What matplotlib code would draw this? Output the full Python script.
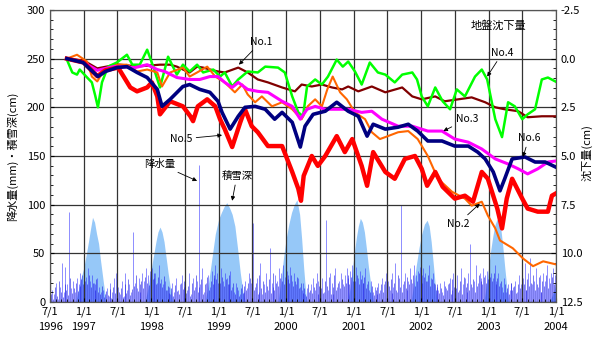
import numpy as np
import matplotlib
matplotlib.use('Agg')
import matplotlib.pyplot as plt

plt.rcParams['font.family'] = ['Noto Sans CJK JP', 'DejaVu Sans']
plt.rcParams['font.size'] = 8

# 地盤沈下量 (cm)  x = 年 (小数)
t_no1 = [1996.75, 1997.0, 1997.2, 1997.5, 1997.8, 1998.13, 1998.28, 1998.38, 1998.47, 1998.57, 1998.68,
         1998.77, 1998.87, 1998.99, 1999.09, 1999.29, 1999.43, 1999.58, 1999.73, 1999.94, 2000.13, 2000.23,
         2000.38, 2000.53, 2000.68, 2000.83, 2000.92, 2001.07, 2001.27, 2001.47, 2001.72, 2001.87, 2002.01,
         2002.21, 2002.35, 2002.55, 2002.75, 2002.95, 2003.10, 2003.24, 2003.44, 2003.58, 2003.79, 2003.99]
s_no1 = [0.0, 0.1, 0.5, 0.3, 0.4, 0.31, 0.31, 0.41, 0.56, 0.71, 0.41,
         0.46, 0.56, 0.66, 0.71, 0.46, 0.71, 1.07, 1.22, 1.48, 1.68, 1.33,
         1.43, 1.33, 1.48, 1.58, 1.43, 1.68, 1.43, 1.73, 1.48, 1.94, 2.09,
         1.94, 2.19, 2.09, 1.99, 2.24, 2.50, 2.60, 2.70, 3.01, 2.96, 2.96]

t_no2 = [1996.75, 1996.90, 1997.05, 1997.12, 1997.20, 1997.29, 1997.49, 1997.64, 1997.79, 1997.94, 1998.09,
         1998.16, 1998.28, 1998.47, 1998.57, 1998.68, 1998.83, 1998.95, 1999.09, 1999.24, 1999.35, 1999.43,
         1999.54, 1999.64, 1999.79, 1999.94, 2000.09, 2000.23, 2000.32, 2000.43, 2000.53, 2000.61, 2000.69,
         2000.80, 2000.90, 2001.02, 2001.17, 2001.27, 2001.39, 2001.47, 2001.66, 2001.81, 2001.95, 2002.10,
         2002.25, 2002.46, 2002.65, 2002.75, 2002.90, 2002.99, 2003.10, 2003.17, 2003.36, 2003.51, 2003.66,
         2003.81, 2003.99]
s_no2 = [0.0, -0.20, 0.15, 0.92, 1.17, 0.66, 0.31, 0.31, 0.66, 0.56, 0.71,
         1.43, 0.71, 0.46, 0.92, 0.71, 0.41, 0.92, 1.22, 1.73, 1.33, 1.84,
         2.24, 1.94, 2.45, 2.24, 2.60, 3.11, 2.45, 2.09, 2.45, 1.58, 0.92,
         1.73, 2.09, 2.76, 3.11, 3.78, 4.13, 4.03, 3.78, 3.72, 4.13, 5.00,
         6.17, 6.84, 7.19, 7.55, 7.35, 8.06, 8.72, 9.34, 9.74, 10.26, 10.66,
         10.41, 10.56]

t_no3 = [1996.75, 1997.0, 1997.2, 1997.45, 1997.76, 1997.94, 1998.09, 1998.20, 1998.38, 1998.57, 1998.72,
         1998.87, 1998.99, 1999.09, 1999.20, 1999.29, 1999.43, 1999.58, 1999.73, 1999.94, 2000.09, 2000.21,
         2000.31, 2000.43, 2000.58, 2000.77, 2000.92, 2001.12, 2001.27, 2001.42, 2001.66, 2001.87, 2002.10,
         2002.31, 2002.50, 2002.70, 2002.90, 2003.10, 2003.29, 2003.44, 2003.58, 2003.73, 2003.88, 2003.99]
s_no3 = [0.0, 0.2, 0.6, 0.4, 0.46, 0.31, 0.56, 0.66, 0.97, 1.07, 1.07,
         0.92, 0.92, 1.22, 1.48, 1.22, 1.58, 1.68, 1.73, 2.19, 2.45, 3.11,
         2.60, 2.45, 2.60, 2.60, 2.60, 2.76, 2.70, 3.11, 3.47, 3.47, 3.72,
         3.72, 4.13, 4.29, 4.64, 5.15, 5.41, 5.66, 5.92, 5.66, 5.31, 5.26]

t_no4 = [1996.75, 1996.83, 1996.90, 1996.94, 1997.05, 1997.12, 1997.17, 1997.21, 1997.27, 1997.36, 1997.49,
         1997.64, 1997.72, 1997.83, 1997.94, 1998.03, 1998.13, 1998.25, 1998.38, 1998.47, 1998.57, 1998.68,
         1998.77, 1998.92, 1999.02, 1999.09, 1999.20, 1999.29, 1999.43, 1999.58, 1999.69, 1999.88, 1999.98,
         2000.09, 2000.18, 2000.25, 2000.31, 2000.43, 2000.53, 2000.62, 2000.75, 2000.84, 2000.92, 2001.02,
         2001.12, 2001.24, 2001.36, 2001.47, 2001.61, 2001.72, 2001.87, 2001.94, 2002.01, 2002.10, 2002.21,
         2002.32, 2002.43, 2002.53, 2002.65, 2002.80, 2002.90, 2002.98, 2003.10, 2003.20, 2003.29, 2003.39,
         2003.50, 2003.58, 2003.69, 2003.79, 2003.88, 2003.99]
s_no4 = [0.05, 0.71, 0.82, 0.56, 0.97, 1.22, 1.90, 2.50, 1.22, 0.41, 0.20,
         -0.20, 0.31, 0.31, -0.46, 0.41, 1.48, -0.10, 0.82, 0.31, 0.66, 0.31,
         0.71, 0.56, 0.92, 0.71, 1.43, 1.07, 0.66, 0.71, 0.41, 0.46, 0.71,
         1.94, 2.76, 2.96, 1.43, 1.07, 1.33, 0.92, 0.05, 0.41, 0.15, 0.66,
         1.33, 0.20, 0.71, 0.82, 1.22, 0.82, 0.71, 1.07, 1.94, 2.45, 1.48,
         2.19, 2.60, 1.58, 1.94, 0.92, 0.56, 1.07, 3.11, 4.03, 2.24, 2.45,
         3.11, 2.86, 2.60, 1.07, 0.97, 1.17]

t_no5 = [1996.75, 1997.0, 1997.2, 1997.32, 1997.51, 1997.69, 1997.79, 1997.94, 1998.01, 1998.09, 1998.13,
         1998.28, 1998.47, 1998.58, 1998.62, 1998.69, 1998.83, 1998.95, 1999.02, 1999.09, 1999.20, 1999.32,
         1999.39, 1999.49, 1999.58, 1999.73, 1999.94, 2000.09, 2000.18, 2000.22, 2000.26, 2000.38, 2000.47,
         2000.58, 2000.75, 2000.87, 2000.98, 2001.12, 2001.20, 2001.29, 2001.47, 2001.61, 2001.76, 2001.91,
         2002.01, 2002.09, 2002.21, 2002.32, 2002.50, 2002.65, 2002.77, 2002.90, 2002.99, 2003.13, 2003.20,
         2003.27, 2003.35, 2003.50, 2003.58, 2003.73, 2003.88, 2003.94, 2003.99]
s_no5 = [0.0, 0.2, 0.9, 0.6, 0.46, 1.48, 1.68, 1.48, 1.22, 1.94, 2.86,
         2.19, 2.45, 2.96, 3.21, 2.45, 2.09, 2.45, 3.11, 3.62, 4.54, 3.27,
         2.60, 3.47, 3.78, 4.49, 4.49, 5.82, 6.68, 7.30, 6.02, 5.00, 5.51,
         5.00, 3.98, 4.80, 4.13, 5.51, 6.53, 4.80, 5.82, 6.17, 5.15, 5.00,
         5.66, 6.53, 5.82, 6.58, 7.19, 7.04, 7.35, 5.82, 6.17, 7.70, 8.72,
         7.19, 6.17, 7.19, 7.70, 7.86, 7.86, 7.04, 6.94]

t_no6 = [1996.75, 1996.99, 1997.21, 1997.32, 1997.49, 1997.64, 1997.79, 1997.94, 1998.09, 1998.16, 1998.28,
         1998.47, 1998.57, 1998.72, 1998.87, 1998.99, 1999.05, 1999.17, 1999.29, 1999.39, 1999.54, 1999.69,
         1999.83, 1999.94, 2000.09, 2000.21, 2000.28, 2000.40, 2000.58, 2000.75, 2000.92, 2001.07, 2001.20,
         2001.29, 2001.47, 2001.66, 2001.81, 2001.95, 2002.10, 2002.31, 2002.50, 2002.70, 2002.84, 2002.95,
         2003.07, 2003.17, 2003.24, 2003.35, 2003.54, 2003.69, 2003.84, 2003.99]
s_no6 = [0.0, 0.20, 0.92, 0.66, 0.46, 0.41, 0.71, 0.97, 1.58, 2.45, 2.09,
         1.43, 1.33, 1.58, 1.73, 2.19, 2.76, 3.62, 2.96, 2.50, 2.45, 2.60,
         3.11, 2.76, 3.27, 4.54, 3.47, 2.86, 2.70, 2.24, 2.70, 2.96, 3.98,
         3.37, 3.62, 3.52, 3.37, 3.72, 4.23, 4.23, 4.49, 4.49, 4.80, 5.15,
         5.82, 6.79, 6.17, 5.15, 5.05, 5.31, 5.31, 5.56]

# 積雪深 (cm)
t_snow = [1996.88, 1996.92, 1996.96, 1997.00, 1997.04, 1997.07, 1997.10, 1997.13, 1997.16, 1997.19, 1997.22,
          1997.25, 1997.28, 1997.31, 1997.34,
          1997.91, 1997.95, 1997.98, 1998.01, 1998.04, 1998.07, 1998.10, 1998.13, 1998.16, 1998.19, 1998.22,
          1998.25, 1998.28, 1998.31, 1998.33,
          1998.80, 1998.85, 1998.90, 1998.95, 1999.00, 1999.04, 1999.08, 1999.12, 1999.16, 1999.20, 1999.24,
          1999.28, 1999.32, 1999.36, 1999.39,
          1999.88, 1999.92, 1999.96, 2000.00, 2000.04, 2000.08, 2000.12, 2000.16, 2000.20, 2000.23, 2000.26,
          2000.29, 2000.31,
          2000.91, 2000.95, 2000.98, 2001.01, 2001.04, 2001.07, 2001.10, 2001.13, 2001.16, 2001.19, 2001.22,
          2001.25, 2001.28, 2001.30,
          2001.85, 2001.89, 2001.93, 2001.97, 2002.01, 2002.05, 2002.09, 2002.12, 2002.15, 2002.18, 2002.21,
          2002.24,
          2002.93, 2002.97, 2003.00, 2003.03, 2003.06, 2003.09, 2003.12, 2003.15, 2003.18, 2003.21, 2003.24,
          2003.27, 2003.30,
          2003.90, 2003.94, 2003.97, 2004.00]
snow = [0, 12, 25, 35, 50, 62, 75, 87, 82, 70, 60, 42, 26, 10, 0,
        0, 14, 26, 38, 50, 62, 72, 77, 72, 62, 46, 30, 16, 5, 0,
        0, 20, 45, 70, 85, 92, 98, 102, 97, 90, 78, 55, 30, 10, 0,
        0, 20, 45, 65, 80, 92, 100, 105, 90, 65, 35, 10, 0,
        0, 15, 32, 50, 66, 78, 86, 82, 72, 55, 36, 20, 6, 0,
        0, 18, 38, 56, 70, 80, 84, 78, 62, 40, 18, 0,
        0, 18, 35, 52, 66, 78, 84, 86, 77, 58, 36, 16, 0,
        0, 6, 12, 18]

# 降水量 (mm) 10日ごと, 1996/7/1 から
precip = [5, 12, 8, 20, 3, 15, 40, 10, 36, 18, 92, 14, 22, 10, 25, 18, 30, 28,
          30, 26, 35, 22, 28, 20, 18, 25, 15, 10, 12, 8, 14, 6, 20, 10, 25, 30,
          15, 8, 22, 6, 30, 12, 18, 10, 72, 20, 14, 25, 10, 30, 22, 35, 28, 32,
          35, 25, 30, 20, 38, 24, 18, 22, 12, 15, 8, 20, 10, 25, 12, 18, 28, 15,
          20, 12, 30, 8, 25, 15, 22, 141, 18, 35, 10, 20, 28, 15, 32, 25, 38, 30,
          28, 35, 22, 30, 25, 18, 32, 15, 10, 20, 12, 8, 18, 10, 22, 14, 30, 20,
          81, 15, 25, 10, 40, 8, 18, 30, 12, 55, 20, 15, 28, 22, 35, 30, 38, 26,
          32, 28, 36, 22, 30, 18, 25, 15, 12, 20, 8, 14, 10, 18, 25, 12, 30, 22,
          18, 25, 10, 84, 12, 30, 20, 8, 35, 15, 22, 30, 18, 28, 35, 25, 32, 38,
          30, 36, 25, 32, 28, 20, 35, 18, 12, 22, 10, 15, 8, 20, 12, 25, 18, 30,
          22, 12, 30, 15, 40, 10, 25, 100, 18, 30, 12, 22, 35, 20, 38, 28, 32, 36,
          28, 35, 30, 22, 38, 25, 30, 18, 15, 12, 20, 10, 22, 14, 18, 25, 12, 30,
          20, 28, 12, 35, 18, 25, 10, 30, 60, 15, 22, 38, 20, 30, 25, 35, 28, 32,
          35, 30, 25, 38, 22, 30, 20, 15, 25, 10, 18, 12, 20, 15, 22, 10, 28, 18,
          25, 40, 12, 30, 45, 18, 22, 35, 15, 28, 10, 30, 22, 38, 25, 30, 35, 28]
# 5日ずらした小さい降水
precip_b = [8, 3, 15, 6, 22, 10, 5, 18, 12, 7, 25, 9, 14, 20, 11, 16, 24, 19,
            22, 18, 28, 15, 20, 12, 24, 10, 8, 16, 5, 11, 7, 13, 4, 15, 9, 18,
            10, 14, 5, 18, 9, 24, 7, 13, 16, 28, 11, 19, 22, 14, 26, 20, 17, 25,
            24, 30, 18, 26, 20, 15, 27, 12, 16, 9, 14, 6, 17, 11, 8, 20, 13, 22,
            9, 16, 6, 20, 12, 28, 10, 15, 24, 8, 18, 26, 12, 22, 19, 28, 24, 20,
            20, 26, 16, 24, 19, 28, 12, 20, 8, 15, 6, 14, 9, 16, 12, 20, 25, 14,
            12, 20, 8, 28, 14, 22, 10, 16, 24, 9, 30, 12, 20, 16, 25, 22, 18, 28,
            24, 20, 28, 16, 22, 26, 14, 20, 9, 14, 6, 18, 12, 9, 15, 20, 8, 16,
            14, 9, 22, 16, 26, 8, 15, 28, 12, 20, 14, 24, 16, 20, 28, 18, 26, 22,
            22, 28, 18, 24, 20, 26, 14, 22, 10, 16, 7, 12, 15, 9, 18, 10, 22, 14,
            16, 24, 9, 20, 12, 28, 15, 10, 22, 14, 26, 18, 24, 28, 16, 22, 30, 20,
            20, 26, 22, 28, 16, 24, 20, 12, 18, 9, 14, 7, 16, 12, 20, 8, 24, 15,
            14, 10, 22, 8, 26, 15, 20, 12, 18, 24, 10, 16, 28, 22, 18, 26, 20, 24,
            26, 22, 30, 18, 25, 16, 22, 10, 18, 14, 8, 20, 12, 16, 9, 18, 14, 22,
            18, 12, 24, 16, 20, 28, 12, 18, 26, 10, 22, 16, 28, 14, 20, 26, 18, 24]
t_precip = 1996.5 + (np.arange(len(precip)) + 0.25) / 36
t_precip_b = 1996.5 + (np.arange(len(precip_b)) + 0.75) / 36

fig = plt.figure(figsize=(5.97, 3.38), dpi=100)
ax = fig.add_axes([0.0838, 0.1065, 0.8475, 0.864])

ax.fill_between(t_snow, 0, snow, color='#96c8f8', lw=0, zorder=1)
ax.vlines(t_precip, 0, precip, color='#3030ff', lw=0.7, alpha=0.55, zorder=1.5)
ax.vlines(t_precip_b, 0, precip_b, color='#2020e0', lw=0.7, alpha=0.6, zorder=1.5)

ax.set_xlim(1996.5, 2004.0)
ax.set_ylim(0, 300)
ax.set_yticks(np.arange(0, 301, 50))
ax.set_yticks(np.arange(0, 301, 10), minor=True)

xt = np.arange(1996.5, 2004.01, 0.5)
xl = []
for v in xt:
    if v == 1996.5:
        xl.append('7/1\n1996')
    elif v % 1 == 0:
        xl.append('1/1\n%d' % int(v))
    else:
        xl.append('7/1')
ax.set_xticks(xt)
ax.set_xticklabels(xl, linespacing=1.6, va='top')
ax.set_xticks(np.arange(1996.5, 2004.01, 1 / 12), minor=True)
ax.tick_params(which='both', direction='in', labelsize=8)
ax.tick_params(which='major', length=3)
ax.tick_params(which='minor', length=2)
ax.set_axisbelow(False)
ax.grid(which='major', color='#333333', lw=0.9)
ax.set_ylabel('降水量(mm)・積雪深(cm)', fontsize=8, labelpad=6)

ax2 = ax.twinx()
ax2.set_ylim(12.5, -2.5)
ax2.set_yticks(np.arange(-2.5, 12.6, 2.5))
ax2.set_yticklabels(['%.1f' % v for v in np.arange(-2.5, 12.6, 2.5)])
ax2.set_yticks(np.arange(-2.5, 12.6, 0.5), minor=True)
ax2.tick_params(which='both', direction='in', labelsize=8)
ax2.tick_params(which='minor', length=2)
fig.text(0.984, 0.55, '沈下量(cm)', rotation=90, ha='center', va='center', fontsize=8)

ax2.plot(t_no1, s_no1, color='#800000', lw=1.6)
ax2.plot(t_no4, s_no4, color='#00ff00', lw=1.8)
ax2.plot(t_no2, s_no2, color='#ff6600', lw=1.5)
ax2.plot(t_no3, s_no3, color='#ff00ff', lw=2.2)
ax2.plot(t_no5, s_no5, color='#ff0000', lw=3.2)
ax2.plot(t_no6, s_no6, color='#000080', lw=2.6)

for sp in list(ax.spines.values()) + list(ax2.spines.values()):
    sp.set_color('#555555')

arw = dict(arrowstyle='-|>', color='black', lw=0.6, mutation_scale=6, shrinkA=1, shrinkB=0)
notes = [('No.1', (1999.63, -0.87), (1999.30, 0.31)),
         ('No.4', (2003.21, -0.31), (2002.98, 0.92)),
         ('No.3', (2002.68, 3.11), (2002.33, 3.72)),
         ('No.6', (2003.60, 4.08), (2003.51, 5.05)),
         ('No.2', (2002.55, 8.47), (2002.87, 7.45)),
         ('No.5', (1998.44, 4.13), (1999.05, 3.93)),
         ('降水量', (1998.12, 5.41), (1998.68, 6.28)),
         ('積雪深', (1999.27, 6.02), (1999.20, 7.30))]
for txt, xyt, xy in notes:
    ax2.annotate(txt, xy=xy, xytext=xyt, ha='center', va='center', fontsize=7.5,
                 arrowprops=arw)
ax2.text(2003.14, -1.68, '地盤沈下量', ha='center', va='center', fontsize=8)

fig.savefig('out.png', dpi=100)
